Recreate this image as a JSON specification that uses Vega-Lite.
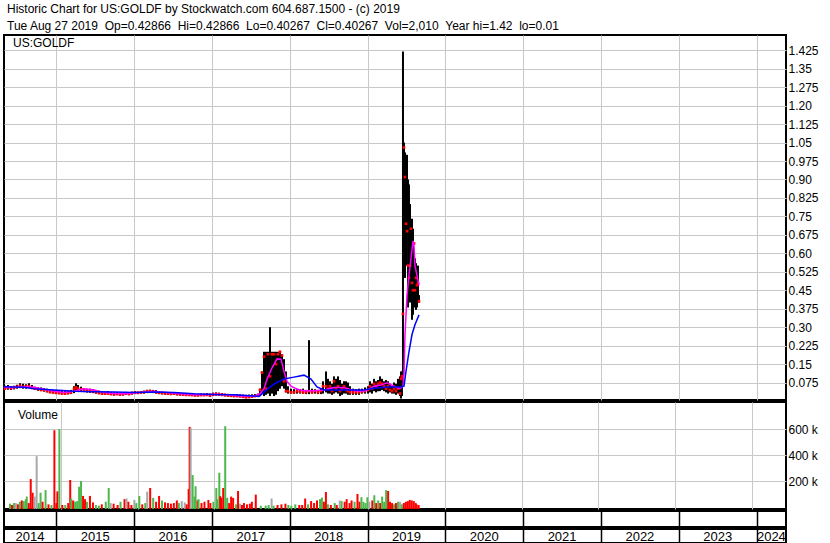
{
"$schema": "https://vega.github.io/schema/vega-lite/v6.json",
"padding": {"left": 0, "top": 3, "right": 0, "bottom": 0},
"background": "white",
"spacing": 0,
"config": {
  "font": "Liberation Sans",
  "view": {"stroke": "black", "strokeWidth": 2},
  "axis": {"labelFont": "Liberation Sans", "labelFontSize": 12, "labelColor": "black", "gridColor": "#c8c8c8", "gridOpacity": 1, "gridWidth": 1, "ticks": false, "domain": false, "title": null, "labelOverlap": false, "labelBound": false, "labelFlush": false}
},
"title": {
  "text": "Historic Chart for US:GOLDF by Stockwatch.com 604.687.1500 - (c) 2019",
  "subtitle": "Tue Aug 27 2019 \u00a0Op=0.42866 \u00a0Hi=0.42866 \u00a0Lo=0.40267 \u00a0Cl=0.40267 \u00a0Vol=2,010 \u00a0Year hi=1.42 \u00a0lo=0.01",
  "anchor": "start", "frame": "group", "dx": 3,
  "font": "Liberation Sans", "fontSize": 12, "fontWeight": "normal", "color": "black",
  "subtitleFont": "Liberation Sans", "subtitleFontSize": 12, "subtitleColor": "black", "subtitlePadding": 5, "offset": 1
},
"datasets": {
  "price": [
    {"t":2014.340,"h":0.062,"l":0.045,"c":0.050},{"t":2014.378,"h":0.065,"l":0.046,"c":0.055},{"t":2014.417,"h":0.060,"l":0.045,"c":0.052},
    {"t":2014.456,"h":0.062,"l":0.047,"c":0.055},{"t":2014.494,"h":0.066,"l":0.050,"c":0.058},{"t":2014.533,"h":0.072,"l":0.052,"c":0.062},
    {"t":2014.571,"h":0.070,"l":0.050,"c":0.058},{"t":2014.610,"h":0.068,"l":0.050,"c":0.060},{"t":2014.648,"h":0.072,"l":0.052,"c":0.060},
    {"t":2014.687,"h":0.065,"l":0.048,"c":0.055},{"t":2014.725,"h":0.058,"l":0.045,"c":0.050},{"t":2014.764,"h":0.056,"l":0.042,"c":0.048},
    {"t":2014.803,"h":0.055,"l":0.040,"c":0.045},{"t":2014.841,"h":0.052,"l":0.038,"c":0.044},{"t":2014.880,"h":0.050,"l":0.035,"c":0.040},
    {"t":2014.918,"h":0.048,"l":0.032,"c":0.036},{"t":2014.957,"h":0.045,"l":0.030,"c":0.035},{"t":2014.995,"h":0.044,"l":0.030,"c":0.033},
    {"t":2015.034,"h":0.042,"l":0.028,"c":0.032},{"t":2015.072,"h":0.045,"l":0.028,"c":0.030},{"t":2015.111,"h":0.040,"l":0.026,"c":0.030},
    {"t":2015.150,"h":0.042,"l":0.027,"c":0.032},{"t":2015.188,"h":0.045,"l":0.028,"c":0.034},{"t":2015.227,"h":0.060,"l":0.032,"c":0.050},
    {"t":2015.252,"h":0.072,"l":0.040,"c":0.055},{"t":2015.278,"h":0.065,"l":0.040,"c":0.050},{"t":2015.317,"h":0.058,"l":0.038,"c":0.048},
    {"t":2015.355,"h":0.052,"l":0.036,"c":0.045},{"t":2015.394,"h":0.050,"l":0.034,"c":0.042},{"t":2015.432,"h":0.050,"l":0.033,"c":0.040},
    {"t":2015.471,"h":0.048,"l":0.032,"c":0.040},{"t":2015.509,"h":0.045,"l":0.030,"c":0.035},{"t":2015.548,"h":0.042,"l":0.028,"c":0.032},
    {"t":2015.587,"h":0.040,"l":0.026,"c":0.030},{"t":2015.625,"h":0.038,"l":0.025,"c":0.030},{"t":2015.664,"h":0.040,"l":0.026,"c":0.030},
    {"t":2015.702,"h":0.036,"l":0.024,"c":0.028},{"t":2015.741,"h":0.035,"l":0.022,"c":0.027},{"t":2015.779,"h":0.036,"l":0.024,"c":0.028},
    {"t":2015.818,"h":0.034,"l":0.022,"c":0.026},{"t":2015.857,"h":0.035,"l":0.022,"c":0.028},{"t":2015.895,"h":0.037,"l":0.025,"c":0.030},
    {"t":2015.934,"h":0.035,"l":0.024,"c":0.028},{"t":2015.972,"h":0.038,"l":0.026,"c":0.032},{"t":2016.011,"h":0.040,"l":0.028,"c":0.034},
    {"t":2016.049,"h":0.038,"l":0.028,"c":0.033},{"t":2016.088,"h":0.040,"l":0.030,"c":0.035},{"t":2016.126,"h":0.042,"l":0.030,"c":0.036},
    {"t":2016.165,"h":0.045,"l":0.032,"c":0.040},{"t":2016.204,"h":0.046,"l":0.033,"c":0.040},{"t":2016.242,"h":0.045,"l":0.032,"c":0.038},
    {"t":2016.281,"h":0.044,"l":0.030,"c":0.036},{"t":2016.319,"h":0.040,"l":0.028,"c":0.033},{"t":2016.358,"h":0.038,"l":0.027,"c":0.032},
    {"t":2016.396,"h":0.037,"l":0.026,"c":0.030},{"t":2016.435,"h":0.036,"l":0.025,"c":0.030},{"t":2016.473,"h":0.036,"l":0.024,"c":0.029},
    {"t":2016.512,"h":0.035,"l":0.024,"c":0.030},{"t":2016.551,"h":0.034,"l":0.023,"c":0.028},{"t":2016.589,"h":0.033,"l":0.022,"c":0.027},
    {"t":2016.628,"h":0.032,"l":0.022,"c":0.026},{"t":2016.666,"h":0.032,"l":0.020,"c":0.025},{"t":2016.705,"h":0.031,"l":0.020,"c":0.025},
    {"t":2016.743,"h":0.030,"l":0.020,"c":0.024},{"t":2016.782,"h":0.030,"l":0.019,"c":0.023},{"t":2016.820,"h":0.029,"l":0.019,"c":0.023},
    {"t":2016.859,"h":0.030,"l":0.020,"c":0.024},{"t":2016.898,"h":0.030,"l":0.020,"c":0.024},{"t":2016.936,"h":0.032,"l":0.020,"c":0.025},
    {"t":2016.975,"h":0.030,"l":0.018,"c":0.022},{"t":2017.013,"h":0.034,"l":0.020,"c":0.026},{"t":2017.052,"h":0.035,"l":0.022,"c":0.028},
    {"t":2017.090,"h":0.034,"l":0.021,"c":0.027},{"t":2017.129,"h":0.032,"l":0.020,"c":0.025},{"t":2017.168,"h":0.030,"l":0.019,"c":0.024},
    {"t":2017.206,"h":0.029,"l":0.018,"c":0.022},{"t":2017.245,"h":0.028,"l":0.017,"c":0.021},{"t":2017.283,"h":0.027,"l":0.016,"c":0.020},
    {"t":2017.322,"h":0.028,"l":0.016,"c":0.020},{"t":2017.360,"h":0.027,"l":0.015,"c":0.019},{"t":2017.399,"h":0.026,"l":0.014,"c":0.017},
    {"t":2017.437,"h":0.025,"l":0.012,"c":0.015},{"t":2017.476,"h":0.026,"l":0.013,"c":0.016},{"t":2017.515,"h":0.027,"l":0.015,"c":0.018},
    {"t":2017.553,"h":0.028,"l":0.016,"c":0.020},{"t":2017.592,"h":0.030,"l":0.017,"c":0.022},{"t":2017.617,"h":0.050,"l":0.020,"c":0.045},
    {"t":2017.643,"h":0.120,"l":0.030,"c":0.115},{"t":2017.669,"h":0.200,"l":0.020,"c":0.180},{"t":2017.694,"h":0.200,"l":0.025,"c":0.050},
    {"t":2017.720,"h":0.200,"l":0.030,"c":0.190},{"t":2017.746,"h":0.300,"l":0.020,"c":0.100},{"t":2017.772,"h":0.200,"l":0.030,"c":0.190},
    {"t":2017.797,"h":0.200,"l":0.020,"c":0.190},{"t":2017.823,"h":0.200,"l":0.025,"c":0.150},{"t":2017.849,"h":0.200,"l":0.040,"c":0.190},
    {"t":2017.874,"h":0.200,"l":0.050,"c":0.200},{"t":2017.900,"h":0.190,"l":0.060,"c":0.185},{"t":2017.926,"h":0.170,"l":0.050,"c":0.080},
    {"t":2017.951,"h":0.120,"l":0.035,"c":0.040},{"t":2017.977,"h":0.060,"l":0.030,"c":0.040},{"t":2018.016,"h":0.050,"l":0.030,"c":0.035},
    {"t":2018.054,"h":0.048,"l":0.030,"c":0.035},{"t":2018.093,"h":0.050,"l":0.030,"c":0.040},{"t":2018.131,"h":0.048,"l":0.030,"c":0.038},
    {"t":2018.170,"h":0.050,"l":0.030,"c":0.035},{"t":2018.209,"h":0.045,"l":0.028,"c":0.035},{"t":2018.247,"h":0.247,"l":0.028,"c":0.040},
    {"t":2018.286,"h":0.050,"l":0.030,"c":0.035},{"t":2018.324,"h":0.048,"l":0.030,"c":0.040},{"t":2018.363,"h":0.045,"l":0.028,"c":0.035},
    {"t":2018.401,"h":0.050,"l":0.028,"c":0.040},{"t":2018.427,"h":0.080,"l":0.030,"c":0.060},{"t":2018.466,"h":0.120,"l":0.035,"c":0.060},
    {"t":2018.491,"h":0.090,"l":0.030,"c":0.050},{"t":2018.517,"h":0.080,"l":0.030,"c":0.060},{"t":2018.543,"h":0.070,"l":0.025,"c":0.040},
    {"t":2018.568,"h":0.100,"l":0.030,"c":0.080},{"t":2018.594,"h":0.090,"l":0.035,"c":0.050},{"t":2018.620,"h":0.100,"l":0.030,"c":0.060},
    {"t":2018.646,"h":0.085,"l":0.020,"c":0.040},{"t":2018.671,"h":0.070,"l":0.025,"c":0.050},{"t":2018.697,"h":0.080,"l":0.030,"c":0.060},
    {"t":2018.723,"h":0.080,"l":0.030,"c":0.045},{"t":2018.748,"h":0.075,"l":0.025,"c":0.040},{"t":2018.774,"h":0.060,"l":0.025,"c":0.035},
    {"t":2018.813,"h":0.050,"l":0.025,"c":0.035},{"t":2018.851,"h":0.048,"l":0.025,"c":0.035},{"t":2018.890,"h":0.050,"l":0.025,"c":0.035},
    {"t":2018.928,"h":0.050,"l":0.030,"c":0.038},{"t":2018.967,"h":0.055,"l":0.030,"c":0.040},{"t":2019.006,"h":0.060,"l":0.030,"c":0.045},
    {"t":2019.031,"h":0.080,"l":0.035,"c":0.060},{"t":2019.057,"h":0.070,"l":0.030,"c":0.050},{"t":2019.083,"h":0.090,"l":0.040,"c":0.070},
    {"t":2019.108,"h":0.080,"l":0.035,"c":0.060},{"t":2019.134,"h":0.085,"l":0.040,"c":0.070},{"t":2019.160,"h":0.100,"l":0.040,"c":0.075},
    {"t":2019.185,"h":0.090,"l":0.045,"c":0.070},{"t":2019.211,"h":0.080,"l":0.040,"c":0.060},{"t":2019.237,"h":0.085,"l":0.035,"c":0.050},
    {"t":2019.263,"h":0.080,"l":0.030,"c":0.060},{"t":2019.288,"h":0.070,"l":0.035,"c":0.045},{"t":2019.314,"h":0.060,"l":0.030,"c":0.040},
    {"t":2019.340,"h":0.075,"l":0.030,"c":0.050},{"t":2019.365,"h":0.070,"l":0.025,"c":0.040},{"t":2019.391,"h":0.090,"l":0.030,"c":0.050},
    {"t":2019.417,"h":0.100,"l":0.020,"c":0.030},{"t":2019.430,"h":0.120,"l":0.010,"c":0.090},{"t":2019.442,"h":0.120,"l":0.020,"c":0.100},
    {"t":2019.455,"h":1.420,"l":0.100,"c":0.354},{"t":2019.468,"h":1.050,"l":0.620,"c":1.030},{"t":2019.481,"h":1.010,"l":0.500,"c":0.910},
    {"t":2019.494,"h":1.000,"l":0.550,"c":0.720},{"t":2019.507,"h":1.000,"l":0.720,"c":0.690},{"t":2019.520,"h":0.900,"l":0.380,"c":0.550},
    {"t":2019.532,"h":0.880,"l":0.450,"c":0.500},{"t":2019.545,"h":0.800,"l":0.400,"c":0.550},{"t":2019.558,"h":0.675,"l":0.450,"c":0.700},
    {"t":2019.571,"h":0.740,"l":0.330,"c":0.480},{"t":2019.584,"h":0.700,"l":0.350,"c":0.450},{"t":2019.597,"h":0.600,"l":0.380,"c":0.640},
    {"t":2019.609,"h":0.580,"l":0.400,"c":0.450},{"t":2019.622,"h":0.560,"l":0.370,"c":0.500},{"t":2019.635,"h":0.520,"l":0.380,"c":0.470},
    {"t":2019.648,"h":0.550,"l":0.400,"c":0.480},{"t":2019.661,"h":0.430,"l":0.400,"c":0.405}
  ],
  "ma1": [
    {"t":2014.327,"v":0.055},{"t":2014.456,"v":0.055},{"t":2014.584,"v":0.058},{"t":2014.713,"v":0.056},{"t":2014.841,"v":0.048},
    {"t":2014.970,"v":0.040},{"t":2015.098,"v":0.034},{"t":2015.227,"v":0.040},{"t":2015.355,"v":0.050},{"t":2015.484,"v":0.045},
    {"t":2015.612,"v":0.034},{"t":2015.741,"v":0.030},{"t":2015.869,"v":0.029},{"t":2015.998,"v":0.032},{"t":2016.126,"v":0.036},
    {"t":2016.255,"v":0.040},{"t":2016.383,"v":0.035},{"t":2016.512,"v":0.031},{"t":2016.640,"v":0.028},{"t":2016.769,"v":0.025},
    {"t":2016.898,"v":0.025},{"t":2017.026,"v":0.027},{"t":2017.155,"v":0.026},{"t":2017.283,"v":0.022},{"t":2017.412,"v":0.019},
    {"t":2017.540,"v":0.020},{"t":2017.617,"v":0.030},{"t":2017.669,"v":0.050},{"t":2017.707,"v":0.088},{"t":2017.772,"v":0.135},
    {"t":2017.836,"v":0.171},{"t":2017.887,"v":0.170},{"t":2017.926,"v":0.120},{"t":2017.964,"v":0.080},{"t":2018.016,"v":0.060},
    {"t":2018.093,"v":0.048},{"t":2018.183,"v":0.042},{"t":2018.311,"v":0.042},{"t":2018.440,"v":0.045},{"t":2018.568,"v":0.055},
    {"t":2018.697,"v":0.055},{"t":2018.826,"v":0.042},{"t":2018.954,"v":0.040},{"t":2019.018,"v":0.048},{"t":2019.083,"v":0.060},
    {"t":2019.173,"v":0.065},{"t":2019.250,"v":0.074},{"t":2019.340,"v":0.060},{"t":2019.417,"v":0.050},{"t":2019.455,"v":0.060},
    {"t":2019.468,"v":0.110},{"t":2019.481,"v":0.270},{"t":2019.494,"v":0.350},{"t":2019.507,"v":0.430},{"t":2019.532,"v":0.510},
    {"t":2019.558,"v":0.580},{"t":2019.584,"v":0.650},{"t":2019.597,"v":0.630},{"t":2019.609,"v":0.550},{"t":2019.635,"v":0.510},
    {"t":2019.661,"v":0.470}
  ],
  "ma2": [
    {"t":2014.327,"v":0.058},{"t":2014.584,"v":0.056},{"t":2014.713,"v":0.050},{"t":2014.970,"v":0.045},{"t":2015.227,"v":0.040},
    {"t":2015.484,"v":0.038},{"t":2015.741,"v":0.036},{"t":2015.998,"v":0.034},{"t":2016.255,"v":0.036},{"t":2016.512,"v":0.034},
    {"t":2016.769,"v":0.029},{"t":2017.026,"v":0.026},{"t":2017.283,"v":0.025},{"t":2017.540,"v":0.020},{"t":2017.605,"v":0.018},
    {"t":2017.669,"v":0.036},{"t":2017.797,"v":0.069},{"t":2017.926,"v":0.089},{"t":2018.054,"v":0.097},{"t":2018.183,"v":0.105},
    {"t":2018.273,"v":0.089},{"t":2018.350,"v":0.057},{"t":2018.440,"v":0.045},{"t":2018.826,"v":0.045},{"t":2018.954,"v":0.045},
    {"t":2019.083,"v":0.052},{"t":2019.250,"v":0.057},{"t":2019.430,"v":0.057},{"t":2019.468,"v":0.060},{"t":2019.494,"v":0.120},
    {"t":2019.532,"v":0.200},{"t":2019.571,"v":0.270},{"t":2019.609,"v":0.310},{"t":2019.661,"v":0.350}
  ],
  "vol": [
    {"t":2014.340,"v":25000,"c":"up"},{"t":2014.366,"v":15000,"c":"down"},{"t":2014.391,"v":30000,"c":"up"},{"t":2014.417,"v":30000,"c":"flat"},
    {"t":2014.443,"v":20000,"c":"down"},{"t":2014.468,"v":40000,"c":"up"},{"t":2014.494,"v":50000,"c":"down"},{"t":2014.520,"v":45000,"c":"up"},
    {"t":2014.546,"v":60000,"c":"up"},{"t":2014.558,"v":80000,"c":"up"},{"t":2014.584,"v":30000,"c":"down"},{"t":2014.610,"v":215000,"c":"down"},
    {"t":2014.635,"v":110000,"c":"down"},{"t":2014.661,"v":80000,"c":"flat"},{"t":2014.687,"v":392000,"c":"flat"},{"t":2014.713,"v":30000,"c":"up"},
    {"t":2014.738,"v":110000,"c":"up"},{"t":2014.764,"v":40000,"c":"down"},{"t":2014.803,"v":130000,"c":"up"},{"t":2014.841,"v":20000,"c":"down"},
    {"t":2014.880,"v":15000,"c":"up"},{"t":2014.918,"v":592000,"c":"down"},{"t":2014.944,"v":30000,"c":"down"},{"t":2014.957,"v":120000,"c":"down"},
    {"t":2014.983,"v":600000,"c":"up"},{"t":2015.021,"v":15000,"c":"down"},{"t":2015.060,"v":15000,"c":"up"},{"t":2015.098,"v":30000,"c":"down"},
    {"t":2015.124,"v":208000,"c":"down"},{"t":2015.137,"v":65000,"c":"up"},{"t":2015.162,"v":50000,"c":"down"},{"t":2015.188,"v":40000,"c":"up"},
    {"t":2015.214,"v":45000,"c":"up"},{"t":2015.240,"v":156000,"c":"up"},{"t":2015.265,"v":200000,"c":"up"},{"t":2015.291,"v":85000,"c":"down"},
    {"t":2015.317,"v":60000,"c":"down"},{"t":2015.342,"v":40000,"c":"up"},{"t":2015.381,"v":85000,"c":"down"},{"t":2015.420,"v":35000,"c":"down"},
    {"t":2015.458,"v":15000,"c":"up"},{"t":2015.497,"v":10000,"c":"up"},{"t":2015.535,"v":20000,"c":"down"},{"t":2015.587,"v":40000,"c":"up"},
    {"t":2015.625,"v":146000,"c":"up"},{"t":2015.651,"v":30000,"c":"flat"},{"t":2015.689,"v":25000,"c":"down"},{"t":2015.741,"v":15000,"c":"down"},
    {"t":2015.779,"v":40000,"c":"up"},{"t":2015.831,"v":60000,"c":"down"},{"t":2015.857,"v":65000,"c":"flat"},{"t":2015.882,"v":40000,"c":"down"},
    {"t":2015.921,"v":15000,"c":"down"},{"t":2015.959,"v":55000,"c":"flat"},{"t":2015.985,"v":30000,"c":"up"},{"t":2016.024,"v":85000,"c":"up"},
    {"t":2016.062,"v":20000,"c":"down"},{"t":2016.101,"v":30000,"c":"up"},{"t":2016.126,"v":118000,"c":"flat"},{"t":2016.165,"v":146000,"c":"down"},
    {"t":2016.204,"v":70000,"c":"up"},{"t":2016.242,"v":40000,"c":"down"},{"t":2016.281,"v":85000,"c":"down"},{"t":2016.319,"v":50000,"c":"up"},
    {"t":2016.358,"v":35000,"c":"down"},{"t":2016.396,"v":30000,"c":"down"},{"t":2016.435,"v":25000,"c":"down"},{"t":2016.473,"v":30000,"c":"down"},
    {"t":2016.512,"v":50000,"c":"down"},{"t":2016.538,"v":30000,"c":"up"},{"t":2016.576,"v":45000,"c":"flat"},{"t":2016.615,"v":35000,"c":"flat"},
    {"t":2016.640,"v":20000,"c":"down"},{"t":2016.666,"v":138000,"c":"down"},{"t":2016.679,"v":618000,"c":"down"},{"t":2016.692,"v":612000,"c":"flat"},
    {"t":2016.718,"v":246000,"c":"up"},{"t":2016.743,"v":80000,"c":"up"},{"t":2016.756,"v":160000,"c":"up"},{"t":2016.782,"v":50000,"c":"down"},
    {"t":2016.795,"v":60000,"c":"up"},{"t":2016.833,"v":30000,"c":"down"},{"t":2016.872,"v":40000,"c":"down"},{"t":2016.923,"v":54000,"c":"down"},
    {"t":2016.949,"v":30000,"c":"down"},{"t":2016.988,"v":40000,"c":"up"},{"t":2017.026,"v":146000,"c":"up"},{"t":2017.039,"v":60000,"c":"up"},
    {"t":2017.065,"v":264000,"c":"up"},{"t":2017.077,"v":83000,"c":"down"},{"t":2017.090,"v":70000,"c":"down"},{"t":2017.116,"v":146000,"c":"down"},
    {"t":2017.142,"v":623000,"c":"up"},{"t":2017.168,"v":70000,"c":"up"},{"t":2017.193,"v":30000,"c":"down"},{"t":2017.219,"v":80000,"c":"down"},
    {"t":2017.245,"v":70000,"c":"down"},{"t":2017.283,"v":20000,"c":"up"},{"t":2017.309,"v":123000,"c":"down"},{"t":2017.335,"v":25000,"c":"flat"},
    {"t":2017.360,"v":15000,"c":"down"},{"t":2017.386,"v":30000,"c":"down"},{"t":2017.425,"v":20000,"c":"down"},{"t":2017.463,"v":25000,"c":"down"},
    {"t":2017.489,"v":40000,"c":"down"},{"t":2017.540,"v":95000,"c":"down"},{"t":2017.605,"v":10000,"c":"up"},{"t":2017.669,"v":10000,"c":"up"},
    {"t":2017.707,"v":15000,"c":"up"},{"t":2017.746,"v":65000,"c":"flat"},{"t":2017.772,"v":10000,"c":"up"},{"t":2017.823,"v":15000,"c":"down"},
    {"t":2017.874,"v":20000,"c":"down"},{"t":2017.926,"v":25000,"c":"down"},{"t":2017.964,"v":15000,"c":"up"},{"t":2018.003,"v":10000,"c":"up"},
    {"t":2018.054,"v":20000,"c":"up"},{"t":2018.106,"v":15000,"c":"down"},{"t":2018.144,"v":15000,"c":"down"},{"t":2018.183,"v":65000,"c":"down"},
    {"t":2018.221,"v":20000,"c":"up"},{"t":2018.260,"v":45000,"c":"down"},{"t":2018.299,"v":30000,"c":"down"},{"t":2018.337,"v":50000,"c":"down"},
    {"t":2018.376,"v":60000,"c":"up"},{"t":2018.401,"v":72000,"c":"up"},{"t":2018.427,"v":40000,"c":"down"},{"t":2018.453,"v":115000,"c":"down"},
    {"t":2018.479,"v":20000,"c":"up"},{"t":2018.517,"v":15000,"c":"down"},{"t":2018.568,"v":30000,"c":"up"},{"t":2018.594,"v":15000,"c":"down"},
    {"t":2018.633,"v":50000,"c":"flat"},{"t":2018.658,"v":45000,"c":"up"},{"t":2018.697,"v":40000,"c":"down"},{"t":2018.723,"v":60000,"c":"down"},
    {"t":2018.761,"v":30000,"c":"down"},{"t":2018.787,"v":50000,"c":"down"},{"t":2018.826,"v":40000,"c":"up"},{"t":2018.864,"v":100000,"c":"down"},
    {"t":2018.890,"v":40000,"c":"down"},{"t":2018.915,"v":75000,"c":"up"},{"t":2018.941,"v":40000,"c":"up"},{"t":2018.967,"v":30000,"c":"up"},
    {"t":2018.993,"v":75000,"c":"up"},{"t":2019.018,"v":40000,"c":"flat"},{"t":2019.057,"v":50000,"c":"down"},{"t":2019.083,"v":90000,"c":"up"},
    {"t":2019.108,"v":30000,"c":"down"},{"t":2019.134,"v":50000,"c":"up"},{"t":2019.160,"v":30000,"c":"down"},{"t":2019.185,"v":80000,"c":"up"},
    {"t":2019.211,"v":40000,"c":"up"},{"t":2019.237,"v":130000,"c":"up"},{"t":2019.263,"v":123000,"c":"down"},{"t":2019.288,"v":40000,"c":"down"},
    {"t":2019.314,"v":30000,"c":"down"},{"t":2019.340,"v":20000,"c":"up"},{"t":2019.365,"v":30000,"c":"down"},{"t":2019.391,"v":40000,"c":"up"},
    {"t":2019.417,"v":40000,"c":"flat"},{"t":2019.442,"v":20000,"c":"up"},{"t":2019.468,"v":30000,"c":"down"},{"t":2019.494,"v":40000,"c":"down"},
    {"t":2019.520,"v":45000,"c":"down"},{"t":2019.545,"v":54000,"c":"down"},{"t":2019.571,"v":50000,"c":"down"},{"t":2019.597,"v":45000,"c":"down"},
    {"t":2019.622,"v":30000,"c":"down"},{"t":2019.635,"v":20000,"c":"down"},{"t":2019.661,"v":15000,"c":"down"}
  ],
  "years": [
    {"y":"2014","t":2014.66},{"y":"2015","t":2015.5},{"y":"2016","t":2016.5},{"y":"2017","t":2017.5},{"y":"2018","t":2018.5},
    {"y":"2019","t":2019.5},{"y":"2020","t":2020.5},{"y":"2021","t":2021.5},{"y":"2022","t":2022.5},{"y":"2023","t":2023.5},{"y":"2024","t":2024.19}
  ]
},
"vconcat": [
  {
    "width": 782, "height": 365,
    "layer": [
      {
        "data": {"name": "price"},
        "mark": {"type": "rule", "color": "black", "strokeWidth": 2},
        "encoding": {
          "x": {"field": "t", "type": "quantitative", "scale": {"domain": [2014.327, 2024.378], "nice": false, "zero": false},
                "axis": {"values": [2015,2016,2017,2018,2019,2020,2021,2022,2023,2024], "tickCount": 50, "labels": false, "grid": true}},
          "y": {"field": "h", "type": "quantitative", "scale": {"domain": [0.004, 1.487], "nice": false, "zero": false},
                "axis": {"orient": "right", "grid": true, "labelPadding": 2, "labelOverlap": false, "tickCount": 50,
                         "values": [0.075,0.15,0.225,0.3,0.375,0.45,0.525,0.6,0.675,0.75,0.825,0.9,0.975,1.05,1.125,1.2,1.275,1.35,1.425],
                         "labelExpr": "(round(datum.value*1000) % 10 == 0) ? format(datum.value,'.2f') : format(datum.value,'.3f')"}},
          "y2": {"field": "l"}
        }
      },
      {
        "data": {"name": "price"},
        "mark": {"type": "square", "color": "#ff0000", "size": 7, "opacity": 1},
        "encoding": {
          "x": {"field": "t", "type": "quantitative"},
          "y": {"field": "c", "type": "quantitative"}
        }
      },
      {
        "data": {"name": "ma1"},
        "mark": {"type": "line", "color": "#ff00ff", "strokeWidth": 1.5},
        "encoding": {
          "x": {"field": "t", "type": "quantitative"},
          "y": {"field": "v", "type": "quantitative"}
        }
      },
      {
        "data": {"name": "ma2"},
        "mark": {"type": "line", "color": "#0000ff", "strokeWidth": 1.5},
        "encoding": {
          "x": {"field": "t", "type": "quantitative"},
          "y": {"field": "v", "type": "quantitative"}
        }
      },
      {
        "data": {"values": [{"label": "US:GOLDF"}]},
        "mark": {"type": "text", "align": "left", "baseline": "middle", "fontSize": 12, "color": "black"},
        "encoding": {
          "x": {"datum": 2014.443, "type": "quantitative"},
          "y": {"datum": 1.455, "type": "quantitative"},
          "text": {"field": "label"}
        }
      }
    ]
  },
  {
    "width": 782, "height": 107,
    "layer": [
      {
        "data": {"name": "vol"},
        "mark": {"type": "bar", "size": 2},
        "encoding": {
          "x": {"field": "t", "type": "quantitative", "scale": {"domain": [2014.327, 2024.378], "nice": false, "zero": false},
                "axis": {"values": [2015,2016,2017,2018,2019,2020,2021,2022,2023,2024], "tickCount": 50, "labels": false, "grid": true}},
          "y": {"field": "v", "type": "quantitative", "scale": {"domain": [-16000, 810000], "nice": false, "zero": false},
                "axis": {"orient": "right", "grid": true, "labelPadding": 2, "labelOverlap": false, "tickCount": 10, "values": [200000, 400000, 600000],
                         "labelExpr": "format(datum.value/1000,'d') + ' k'"}},
          "y2": {"datum": -16000},
          "color": {"field": "c", "type": "nominal", "scale": {"domain": ["up", "down", "flat"], "range": ["#4cb84c", "#ff0000", "#a8a8a8"]}, "legend": null}
        }
      },
      {
        "data": {"values": [{"label": "Volume"}]},
        "mark": {"type": "text", "align": "left", "baseline": "middle", "fontSize": 12, "color": "black"},
        "encoding": {
          "x": {"datum": 2014.443, "type": "quantitative"},
          "y": {"datum": 710000, "type": "quantitative"},
          "text": {"field": "label"}
        }
      }
    ]
  },
  {
    "width": 782, "height": 16,
    "data": {"name": "years"},
    "mark": {"type": "text", "fontSize": 12},
    "encoding": {
      "x": {"field": "t", "type": "quantitative", "scale": {"domain": [2014.327, 2024.378], "nice": false, "zero": false},
            "axis": {"values": [2015,2016,2017,2018,2019,2020,2021,2022,2023,2024], "tickCount": 50, "labels": false, "grid": true, "gridColor": "black", "gridWidth": 1.5}},
      "text": {"value": ""}
    }
  },
  {
    "width": 782, "height": 14,
    "data": {"name": "years"},
    "mark": {"type": "text", "fontSize": 13, "color": "black", "baseline": "middle", "dy": 1},
    "encoding": {
      "x": {"field": "t", "type": "quantitative", "scale": {"domain": [2014.327, 2024.378], "nice": false, "zero": false},
            "axis": {"values": [2015,2016,2017,2018,2019,2020,2021,2022,2023,2024], "tickCount": 50, "labels": false, "grid": true, "gridColor": "black", "gridWidth": 1.5}},
      "text": {"field": "y"}
    }
  }
]
}
